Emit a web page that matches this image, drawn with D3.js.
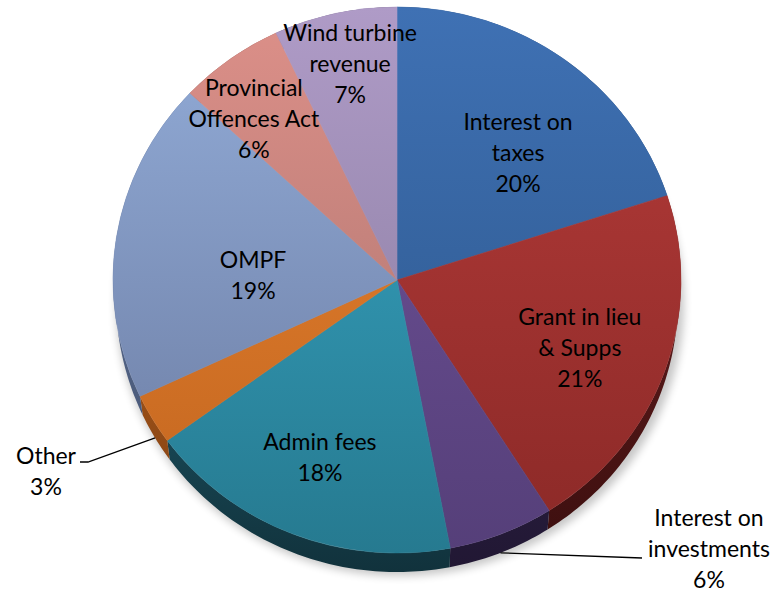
<!DOCTYPE html>
<html>
<head>
<meta charset="utf-8">
<script src="https://cdn.jsdelivr.net/npm/d3@7/dist/d3.min.js"></script>
<style>
  html, body { margin: 0; padding: 0; background: #ffffff; }
  svg { display: block; }
  text { font-family: Lato, "Open Sans", sans-serif; fill: #000; }
</style>
</head>
<body>
<svg id="chart" width="782" height="592"></svg>
<script>
// Revenue sources, clockwise from 12 o'clock
const categories = [
  "Interest on taxes", "Grant in lieu & Supps", "Interest on investments",
  "Admin fees", "Other", "OMPF", "Provincial Offences Act", "Wind turbine revenue"
];
const shares = [20, 21, 6, 18, 3, 19, 6, 7];
const labelLines = [
  ["Interest on", "taxes"], ["Grant in lieu", "& Supps"], ["Interest on", "investments"],
  ["Admin fees"], ["Other"], ["OMPF"], ["Provincial", "Offences Act"], ["Wind turbine", "revenue"]
];

// Face colours (light at top, dark at bottom) and rim colours
const faceTop    = ["#3f71b4", "#b63c3a", "#72549c", "#39a8c7", "#ea8531", "#93add9", "#dd9089", "#af9bc7"];
const faceBottom = ["#2b5487", "#8b2927", "#553f79", "#267a90", "#c2651f", "#6a7aa0", "#a6716c", "#84789a"];
const rimTop     = ["#22436d", "#5c1b1b", "#33264d", "#1f5b6c", "#a8581b", "#56688c", "#7a4a46", "#5e5270"];
const rimBottom  = ["#172f4d", "#3a0e0e", "#211733", "#11323c", "#7e3f12", "#3e4b66", "#5a3532", "#463d55"];

// Label placement: position within slice (fraction of radius, angle shift in degrees)
const labelRadius = [0.631, 0.69, null, 0.706, null, 0.507, 0.776, 0.808];
const labelShift  = [6.5, 1.3, 0, 1.0, 0, -7.0, -4.5, 0.8];

const svg = d3.select("#chart");
const cx = 397, cy = 280, rx = 284, ry = 273, depth = 19, rxBottom = 281;
const fontSize = 23, lineH = 31;

const pie = d3.pie().sort(null).value(d => d)(shares);
const arc = d3.arc().innerRadius(0).outerRadius(rx);

const defs = svg.append("defs");
const blur = defs.append("filter").attr("id", "soft").attr("x", "-20%").attr("y", "-20%")
  .attr("width", "140%").attr("height", "140%");
blur.append("feGaussianBlur").attr("stdDeviation", 4);

pie.forEach((p, i) => {
  const g = defs.append("linearGradient").attr("id", "face" + i)
    .attr("gradientUnits", "userSpaceOnUse").attr("x1", 0).attr("x2", 0)
    .attr("y1", -rx).attr("y2", rx);
  g.append("stop").attr("offset", 0).attr("stop-color", faceTop[i]);
  g.append("stop").attr("offset", 1).attr("stop-color", faceBottom[i]);
  const s = defs.append("linearGradient").attr("id", "rim" + i)
    .attr("gradientUnits", "userSpaceOnUse").attr("x1", 0).attr("x2", 0)
    .attr("y1", cy).attr("y2", cy + ry + depth);
  s.append("stop").attr("offset", 0).attr("stop-color", rimTop[i]);
  s.append("stop").attr("offset", 1).attr("stop-color", rimBottom[i]);
});

const topPt = t => [cx + rx * Math.sin(t), cy - ry * Math.cos(t)];
const botPt = t => [cx + rxBottom * Math.sin(t), cy + depth - ry * Math.cos(t)];

// Soft drop shadow under the disc
svg.append("ellipse")
  .attr("cx", cx + 3).attr("cy", cy + depth + 4)
  .attr("rx", rx).attr("ry", ry)
  .attr("fill", "#000").attr("opacity", 0.22)
  .attr("filter", "url(#soft)");

// Rim of each slice: band between top outline and the lowered outline
const line = d3.line();
svg.append("g").selectAll("path").data(pie).join("path")
  .attr("d", p => {
    const n = Math.max(8, Math.ceil((p.endAngle - p.startAngle) * 60));
    const ts = d3.range(n + 1).map(k => p.startAngle + (p.endAngle - p.startAngle) * k / n);
    const pts = ts.map(topPt).concat(ts.slice().reverse().map(botPt));
    return line(pts) + "Z";
  })
  .attr("fill", (p, i) => `url(#rim${i})`);

// Top faces
svg.append("g")
  .attr("transform", `translate(${cx},${cy}) scale(1,${ry / rx})`)
  .selectAll("path").data(pie).join("path")
  .attr("d", arc)
  .attr("fill", (p, i) => `url(#face${i})`)
  .attr("stroke", (p, i) => `url(#face${i})`)
  .attr("stroke-width", 0.6);

// Multi-line label centred on (x, y)
function drawLabel(lines, x, y) {
  const t = svg.append("text").attr("text-anchor", "middle")
    .attr("font-size", fontSize);
  const n = lines.length;
  lines.forEach((s, k) => {
    t.append("tspan").attr("x", x)
      .attr("y", y + (k - (n - 1) / 2) * lineH)
      .attr("dy", "0.35em").text(s);
  });
}

const pct = d => Math.round(d) + "%";

pie.forEach((p, i) => {
  if (labelRadius[i] == null) return;
  const a = (p.startAngle + p.endAngle) / 2 + labelShift[i] * Math.PI / 180;
  const x = cx + rx * labelRadius[i] * Math.sin(a);
  const y = cy - ry * labelRadius[i] * Math.cos(a);
  drawLabel(labelLines[i].concat([pct(shares[i])]), x, y);
});

// Outside labels with leader lines from the lower rim
const outside = [
  { i: 4, bend: [88, 462], end: [80, 462], text: [46, 471] },
  { i: 2, bend: [642, 558], end: [642, 558], text: [709, 549] }
];
outside.forEach(o => {
  const p = pie[o.i];
  const m = (p.startAngle + p.endAngle) / 2;
  const start = botPt(m);
  svg.append("path")
    .attr("d", line([start, o.bend, o.end]))
    .attr("fill", "none").attr("stroke", "#000").attr("stroke-width", 1.3);
  drawLabel(labelLines[o.i].concat([pct(shares[o.i])]), o.text[0], o.text[1]);
});
</script>
</body>
</html>
